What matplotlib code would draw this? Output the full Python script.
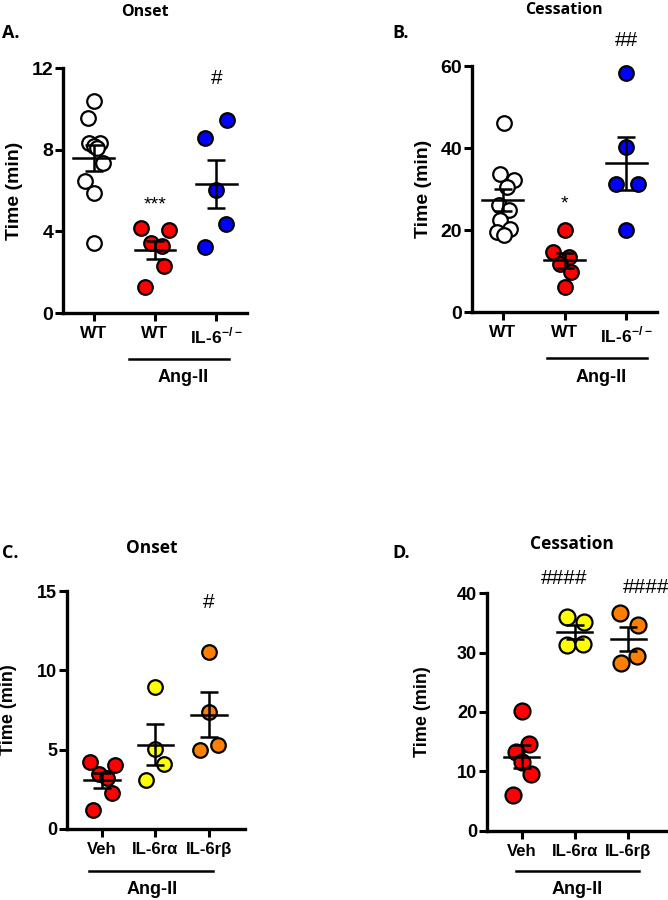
import numpy as np
import matplotlib
matplotlib.use("Agg")
import matplotlib.pyplot as plt

plt.rcParams["font.family"] = ["Liberation Sans", "DejaVu Sans"]
plt.rcParams["font.weight"] = "bold"
plt.rcParams["mathtext.fontset"] = "custom"
plt.rcParams["mathtext.rm"] = "Liberation Sans:bold"
plt.rcParams["mathtext.bf"] = "Liberation Sans:bold"

# ---- data ----
labels_top = ["WT", "WT", r"IL-6$^{-/-}$"]
labels_bottom = ["Veh", "IL-6rα", "IL-6rβ"]

a_wt = [10.37, 9.55, 8.33, 8.33, 8.2, 8.1, 7.35, 6.45, 5.88, 3.43]
a_ang = [4.16, 4.08, 3.43, 3.27, 2.29, 1.27]
a_ko = [9.44, 8.57, 6.04, 4.38, 3.23]

b_wt = [46.1, 33.7, 32.1, 30.5, 26.0, 24.8, 22.4, 20.3, 19.5, 18.7]
b_ang = [19.9, 14.6, 13.4, 11.8, 9.76, 6.1]
b_ko = [58.3, 40.2, 31.3, 31.3, 20.1]

c_veh = [4.2, 4.05, 3.46, 3.2, 2.27, 1.22]
c_ra = [8.98, 5.03, 4.11, 3.06]
c_rb = [11.14, 7.4, 5.3, 4.99]

d_veh = [20.1, 14.6, 13.3, 11.6, 9.5, 6.0]
d_ra = [36.0, 35.1, 31.2, 31.5]
d_rb = [36.6, 34.6, 28.2, 29.4]

# horizontal offsets of the dots from their group centre
a_jit = [[0.0, -0.1, -0.08, 0.11, 0.0, 0.05, 0.16, -0.14, 0.0, 0.0],
         [-0.23, 0.23, -0.07, 0.12, 0.15, -0.17],
         [0.17, -0.18, 0.0, 0.16, -0.18]]
b_jit = [[0.02, -0.04, 0.18, 0.07, -0.07, 0.1, -0.04, 0.12, -0.1, 0.02],
         [0.0, -0.19, 0.08, -0.08, 0.11, 0.0],
         [0.0, 0.0, -0.17, 0.19, 0.0]]
c_jit = [[-0.23, 0.25, -0.06, 0.09, 0.19, -0.16],
         [0.0, 0.0, 0.16, -0.17],
         [0.0, 0.0, 0.17, -0.17]]
d_jit = [[0.0, 0.14, -0.11, 0.01, 0.18, -0.16],
         [-0.14, 0.18, -0.14, 0.16],
         [-0.16, 0.18, -0.14, 0.17]]

panels = [
    dict(pos=[0.0943, 0.6522, 0.2755, 0.2722], groups=[a_wt, a_ang, a_ko], jit=a_jit,
         colors=["white", "#ff0000", "#0000ff"], ylim=12, ticks=[0, 4, 8, 12],
         xlim=(0.5, 3.5), labels=labels_top, ms=10.5, ytfs=14, xtfs=12.5, ylfs=14,
         marks=[(2, 5.3, "***", 14), (3, 11.5, "#", 15)],
         line=(1.57, 3.2, -0.188), ang=(2.45, -0.265), ylx=-0.217),
    dict(pos=[0.7066, 0.6533, 0.277, 0.2733], groups=[b_wt, b_ang, b_ko], jit=b_jit,
         colors=["white", "#ff0000", "#0000ff"], ylim=60, ticks=[0, 20, 40, 60],
         xlim=(0.5, 3.5), labels=labels_top, ms=10.5, ytfs=14, xtfs=12.5, ylfs=14,
         marks=[(2, 26.3, "*", 14), (3, 66.3, "##", 15)],
         line=(1.72, 3.34, -0.187), ang=(2.59, -0.268), ylx=-0.216),
    dict(pos=[0.1003, 0.0789, 0.2665, 0.2644], groups=[c_veh, c_ra, c_rb], jit=c_jit,
         colors=["#ff0000", "#ffff00", "#ff8000"], ylim=15, ticks=[0, 5, 10, 15],
         xlim=(0.35, 3.67), labels=labels_bottom, ms=10.5, ytfs=13, xtfs=12, ylfs=13,
         marks=[(3, 14.26, "#", 15)],
         line=(0.76, 3.07, -0.176), ang=(1.93, -0.256), ylx=-0.28),
    dict(pos=[0.729, 0.0767, 0.2695, 0.2644], groups=[d_veh, d_ra, d_rb], jit=d_jit,
         colors=["#ff0000", "#ffff00", "#ff8000"], ylim=40, ticks=[0, 10, 20, 30, 40],
         xlim=(0.35, 3.73), labels=labels_bottom, ms=11.5, ytfs=13, xtfs=12, ylfs=13,
         marks=[(1.79, 42.4, "####", 15), (3.33, 41.0, "####", 15)],
         line=(0.89, 3.21, -0.168), ang=(2.04, -0.248), ylx=-0.31),
]

fig = plt.figure(figsize=(6.68, 9), dpi=100)

for p in panels:
    ax = fig.add_axes(p["pos"])
    for i, vals in enumerate(p["groups"]):
        x0 = i + 1
        vals = np.array(vals)
        xs = x0 + np.array(p["jit"][i])
        ax.plot(xs, vals, "o", ms=p["ms"], mfc=p["colors"][i], mec="black",
                mew=1.6, ls="none", zorder=2, clip_on=False)
        m = vals.mean()
        se = vals.std(ddof=1) / np.sqrt(len(vals))
        ax.plot([x0 - 0.33, x0 + 0.33], [m, m], color="black", lw=1.8, zorder=3)
        ax.errorbar([x0], [m], yerr=[se], fmt="none", ecolor="black",
                    elinewidth=1.8, capsize=6.5, capthick=1.8, zorder=3)
    ax.set_xlim(*p["xlim"])
    ax.set_ylim(0, p["ylim"])
    ax.set_yticks(p["ticks"])
    ax.set_xticks([1, 2, 3])
    ax.set_xticklabels(p["labels"], fontsize=p["xtfs"], fontweight="bold")
    ax.tick_params(axis="both", width=2.2, length=6)
    ax.tick_params(axis="y", labelsize=p["ytfs"], pad=1)
    for t in ax.get_yticklabels():
        t.set_fontweight("bold")
    for s in ["top", "right"]:
        ax.spines[s].set_visible(False)
    for s in ["left", "bottom"]:
        ax.spines[s].set_linewidth(2.4)
    ax.set_ylabel("Time (min)", fontsize=p["ylfs"], fontweight="bold")
    ax.yaxis.set_label_coords(p["ylx"], 0.5)
    for x, y, txt, fs in p["marks"]:
        ax.text(x, y, txt, ha="center", va="center", fontsize=fs,
                fontweight="normal", clip_on=False)
    x1, x2, yl = p["line"]
    ax.plot([x1, x2], [yl, yl], color="black", lw=1.8, clip_on=False,
            transform=ax.get_xaxis_transform())
    ax.text(p["ang"][0], p["ang"][1], "Ang-II", ha="center", va="center",
            fontsize=13, fontweight="bold", transform=ax.get_xaxis_transform())

title_font = ["Open Sans", "DejaVu Sans"]
fig.text(0.217, 0.987, "Onset", ha="center", va="center", fontsize=11.5, fontweight="bold", family=title_font)
fig.text(0.003, 0.963, "A.", ha="left", va="center", fontsize=13, fontweight="bold", family=title_font)
fig.text(0.844, 0.989, "Cessation", ha="center", va="center", fontsize=11.5, fontweight="bold", family=title_font)
fig.text(0.587, 0.963, "B.", ha="left", va="center", fontsize=13, fontweight="bold", family=title_font)
fig.text(0.2275, 0.391, "Onset", ha="center", va="center", fontsize=12.5, fontweight="bold", family=title_font)
fig.text(0.003, 0.386, "C.", ha="left", va="center", fontsize=13, fontweight="bold", family=title_font)
fig.text(0.856, 0.396, "Cessation", ha="center", va="center", fontsize=12.5, fontweight="bold", family=title_font)
fig.text(0.588, 0.386, "D.", ha="left", va="center", fontsize=13, fontweight="bold", family=title_font)

fig.savefig("out.png", dpi=100)
